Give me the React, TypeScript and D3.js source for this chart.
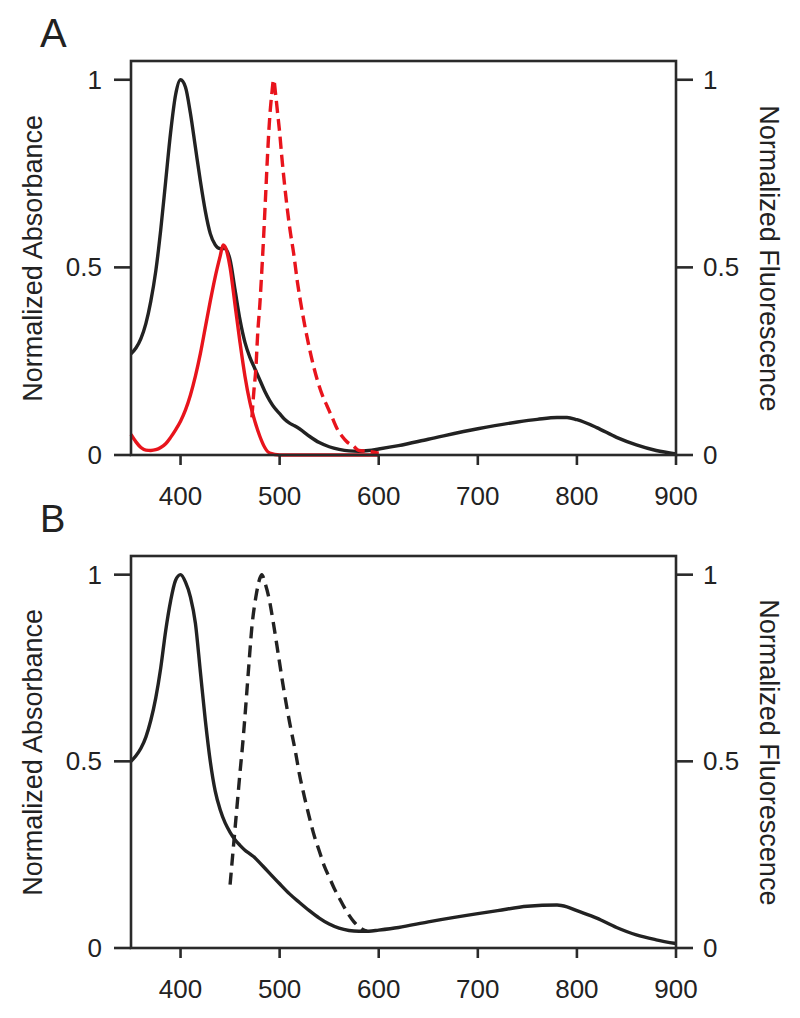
import React from "react";
import * as d3 from "d3";

// ---- Data (wavelength nm, normalized value) ----
const absA_wl = [350,355,360,365,370,375,380,385,390,395,400,405,410,415,420,425,430,435,440,445,450,455,460,465,470,475,480,485,490,495,500,505,510,515,520,530,540,550,560,570,580,590,600,620,650,700,740,760,780,790,800,820,840,860,880,900];
const absA_val = [0.27,0.285,0.31,0.35,0.41,0.49,0.60,0.73,0.86,0.96,1.0,0.98,0.91,0.82,0.73,0.65,0.59,0.56,0.55,0.55,0.52,0.44,0.36,0.30,0.26,0.23,0.20,0.17,0.145,0.125,0.11,0.095,0.085,0.078,0.07,0.05,0.033,0.022,0.015,0.011,0.01,0.012,0.016,0.025,0.042,0.07,0.088,0.095,0.1,0.1,0.094,0.073,0.047,0.027,0.012,0.003];

const redAbsA_wl = [350,355,360,365,370,375,380,385,390,395,400,405,410,415,420,425,430,435,440,443,445,450,455,460,465,470,475,480,485,490,500,550,600];
const redAbsA_val = [0.055,0.035,0.02,0.013,0.012,0.014,0.02,0.03,0.047,0.067,0.09,0.12,0.16,0.21,0.27,0.34,0.41,0.475,0.53,0.56,0.555,0.5,0.4,0.3,0.21,0.14,0.09,0.05,0.02,0.005,0.0,0.0,0.0];

const redFlA_wl = [472,474,476,478,480,482,484,486,488,490,492,494,496,498,500,502,505,508,511,514,518,521,525,528,533,538,543,548,553,558,563,568,574,580,588,600];
const redFlA_val = [0.10,0.17,0.23,0.33,0.40,0.49,0.59,0.70,0.81,0.90,0.96,1.0,0.96,0.91,0.86,0.80,0.72,0.65,0.59,0.54,0.46,0.41,0.35,0.31,0.25,0.20,0.16,0.13,0.10,0.07,0.05,0.035,0.025,0.012,0.01,0.005];

const absB_wl = [350,355,360,365,370,375,380,385,390,395,400,405,410,415,420,425,430,435,440,445,450,455,460,465,470,475,480,490,500,510,520,530,540,550,560,570,580,590,600,620,650,700,720,750,780,790,800,820,840,860,880,900];
const absB_val = [0.50,0.515,0.535,0.565,0.61,0.67,0.75,0.85,0.93,0.985,1.0,0.98,0.94,0.87,0.74,0.61,0.5,0.42,0.37,0.335,0.31,0.29,0.275,0.262,0.252,0.242,0.228,0.2,0.172,0.145,0.122,0.1,0.08,0.064,0.053,0.047,0.045,0.045,0.048,0.055,0.07,0.092,0.1,0.112,0.115,0.11,0.1,0.08,0.055,0.035,0.022,0.012];

const flB_wl = [450,452,455,458,460,462.5,465,467,469,472,476,480,482,485,489,494,499,504,510,516,520,525,530,535,540,545,550,555,560,565,570,575,580,585,588];
const flB_val = [0.17,0.23,0.32,0.41,0.47,0.54,0.62,0.69,0.76,0.86,0.94,0.99,1.0,0.98,0.94,0.865,0.78,0.695,0.605,0.525,0.465,0.405,0.35,0.3,0.26,0.22,0.19,0.16,0.135,0.11,0.088,0.07,0.057,0.048,0.045];

const xTicks = [400, 500, 600, 700, 800, 900];
const yTicks = [0, 0.5, 1];
const yTickLabels = ["0", "0.5", "1"];
const leftTitle = "Normalized Absorbance";
const rightTitle = "Normalized Fluorescence";

const BLACK = "#222";
const RED = "#e8141c";
const FONT = "'Liberation Sans', Arial, Helvetica, sans-serif";

type Series = { wl: number[]; val: number[]; color: string; dash?: string };

const zip = (wl: number[], val: number[]) => wl.map((w, i) => [w, val[i]] as [number, number]);

function Panel({ letter, top, bottom, series, letterY, letterSize }: { letter: string; top: number; bottom: number; series: Series[]; letterY: number; letterSize: number }) {
  const left = 131, right = 676;
  const x = d3.scaleLinear().domain([350, 900]).range([left, right]);
  const y = d3.scaleLinear().domain([0, 1.05]).range([bottom, top]);
  const line = d3.line<[number, number]>().x(d => x(d[0])).y(d => y(d[1])).curve(d3.curveMonotoneX);
  const mid = (y(0) + y(1)) / 2 - 9;
  const axisColor = "#2a2a2a";
  return (
    <g>
      <text x={40} y={letterY} fontSize={letterSize} fontFamily={FONT} fill={BLACK}>{letter}</text>
      {series.map((s, i) => (
        <path key={i} d={line(zip(s.wl, s.val)) || ""} fill="none" stroke={s.color} strokeWidth={3.4} strokeDasharray={s.dash} strokeLinejoin="round" />
      ))}
      <rect x={left} y={top} width={right - left} height={bottom - top} fill="none" stroke={axisColor} strokeWidth={2.6} />
      {xTicks.map(t => (
        <g key={"x" + t}>
          <line x1={x(t)} x2={x(t)} y1={bottom} y2={bottom + 10} stroke={axisColor} strokeWidth={2.6} />
          <text x={x(t)} y={bottom + 50} textAnchor="middle" fontSize={26} fontFamily={FONT} fill={BLACK}>{t}</text>
        </g>
      ))}
      {yTicks.map((t, i) => (
        <g key={"y" + t}>
          <line x1={left - 17} x2={left} y1={y(t)} y2={y(t)} stroke={axisColor} strokeWidth={2.6} />
          <text x={102} y={y(t) + 9} textAnchor="end" fontSize={26} fontFamily={FONT} fill={BLACK}>{yTickLabels[i]}</text>
          <line x1={right} x2={right + 17} y1={y(t)} y2={y(t)} stroke={axisColor} strokeWidth={2.6} />
          <text x={703} y={y(t) + 9} textAnchor="start" fontSize={26} fontFamily={FONT} fill={BLACK}>{yTickLabels[i]}</text>
        </g>
      ))}
      <text transform={`translate(42,${mid}) rotate(-90)`} textAnchor="middle" fontSize={27} fontFamily={FONT} fill={BLACK}>{leftTitle}</text>
      <text transform={`translate(760,${mid}) rotate(90)`} textAnchor="middle" fontSize={27} fontFamily={FONT} fill={BLACK}>{rightTitle}</text>
    </g>
  );
}

export default function App() {
  const seriesA: Series[] = [
    { wl: absA_wl, val: absA_val, color: BLACK },
    { wl: redAbsA_wl, val: redAbsA_val, color: RED },
    { wl: redFlA_wl, val: redFlA_val, color: RED, dash: "12,6" },
  ];
  const seriesB: Series[] = [
    { wl: absB_wl, val: absB_val, color: BLACK },
    { wl: flB_wl, val: flB_val, color: BLACK, dash: "12,7" },
  ];
  return (
    <svg width={800} height={1018} style={{ position: "absolute", left: 0, top: 0, background: "#fff" }}>
      <rect width={800} height={1018} fill="#fff" />
      <Panel letter="A" top={61} bottom={455} series={seriesA} letterY={47} letterSize={40} />
      <Panel letter="B" top={556} bottom={948} series={seriesB} letterY={532} letterSize={38} />
    </svg>
  );
}
